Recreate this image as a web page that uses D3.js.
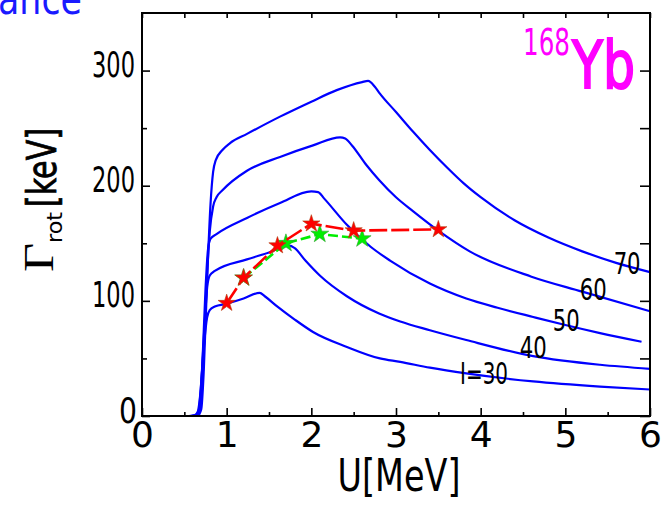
<!DOCTYPE html>
<html>
<head>
<meta charset="utf-8">
<title>Gamma rot 168Yb</title>
<script src="https://d3js.org/d3.v7.min.js"></script>
<style>
  body { margin: 0; background: #fff; font-family: "DejaVu Sans"; }
  svg { display: block; }
</style>
</head>
<body>
<div id="chart"></div>
<script>
// spin values of the calculated curves
var spins = [30, 40, 50, 60, 70];

// U [MeV] and Gamma_rot [keV], one pair per curve
var U30 = [0, 0.55, 0.62, 0.66, 0.69, 0.73, 0.77, 0.80, 0.86, 1.0, 1.2, 1.39, 1.45, 1.6, 1.8, 2.02, 2.42, 2.81, 3.05, 3.4, 3.83, 4.62, 5.41, 6.0];
var G30 = [0, 0, 0.5, 4, 20, 60, 86, 92, 95, 97.5, 102, 107, 104, 95, 84, 73, 60, 50, 47, 42, 37, 30, 25.5, 23];

var U40 = [0, 0.56, 0.63, 0.67, 0.70, 0.74, 0.77, 0.80, 0.86, 1.24, 1.5, 1.74, 1.80, 1.93, 2.1, 2.42, 2.8, 3.05, 3.4, 3.83, 4.62, 5.41, 6.0];
var G40 = [0, 0, 0.5, 5, 30, 80, 112, 122, 126, 136, 142, 148, 146, 135, 122, 104, 89, 82, 74.5, 66, 52, 44.5, 41];

var U50 = [0, 0.57, 0.64, 0.68, 0.71, 0.75, 0.78, 0.81, 0.88, 1.24, 1.63, 2.0, 2.08, 2.15, 2.42, 2.7, 2.93, 3.4, 3.83, 4.2, 4.62, 5.0, 5.41, 5.9];
var G50 = [0, 0, 0.5, 6, 40, 110, 145, 154, 158, 172, 185, 195, 194.5, 189, 166, 147, 135, 115, 102, 94, 86, 79, 72, 64.5];

var U60 = [0, 0.58, 0.65, 0.69, 0.72, 0.76, 0.80, 0.84, 0.88, 0.95, 1.24, 1.63, 2.02, 2.34, 2.40, 2.48, 2.65, 2.8, 3.0, 3.2, 3.5, 3.87, 4.6, 5.2, 6.0];
var G60 = [0, 0, 0.5, 6, 40, 110, 160, 182, 190, 196, 213, 225, 235, 242, 241, 235, 218, 205, 190, 178, 161, 143, 121, 108, 91];

var U70 = [0, 0.59, 0.66, 0.70, 0.73, 0.77, 0.81, 0.84, 0.87, 0.95, 1.04, 1.24, 1.63, 2.0, 2.3, 2.6, 2.67, 2.75, 2.81, 3.0, 3.2, 3.4, 3.6, 3.8, 4.0, 4.4, 4.8, 5.2, 5.6, 6.0];
var G70 = [0, 0, 0.5, 6, 40, 120, 185, 212, 222, 231, 237, 245, 260, 273, 283, 290, 291, 286, 280, 264, 247, 231, 216, 202, 190, 170, 155, 143, 133, 125];

// star points
var redU = [1.0, 1.2, 1.6, 2.0, 2.5, 3.5];
var redG = [98, 120, 148, 167, 161, 162];
var greenU = [1.2, 1.7, 2.1, 2.6];
var greenG = [120, 150, 158, 154];

// curve labels and where they sit (data units)
var curveLabels = ["I=30", "40", "50", "60", "70"];
var labelU = [4.04, 4.62, 5.01, 5.33, 5.73];
var labelG = [37, 60, 83, 110, 133];

var xTicks = [0, 1, 2, 3, 4, 5, 6];
var xMinor = [0.5, 1.5, 2.5, 3.5, 4.5, 5.5];
var yTicks = [0, 100, 200, 300];
var yMinor = [50, 150, 250];

(function() {
var W = 663, H = 505;
var pl = 142, pr = 650, pt = 13, pb = 416;

var svg = d3.select("#chart").append("svg")
  .attr("width", W)
  .attr("height", H);

var x = d3.scaleLinear().domain([0, 6]).range([pl, pr]);
var y = d3.scaleLinear().domain([0, 350]).range([pb, pt]);

// cut-off title text at the top left
svg.append("text")
  .attr("x", 82).attr("y", 14)
  .attr("text-anchor", "end")
  .attr("textLength", 84)
  .attr("lengthAdjust", "spacingAndGlyphs")
  .style("font-size", "42px")
  .style("fill", "#1a1aff")
  .text("ance");

// axes, ticks pointing inward
function addAxis(axis, tx, ty) {
  var g = svg.append("g").attr("transform", "translate(" + tx + "," + ty + ")").call(axis);
  g.select(".domain").remove();
  g.selectAll("line").attr("stroke", "#000").attr("stroke-width", 1.6);
  return g;
}
var xb = addAxis(d3.axisBottom(x).tickValues(xTicks).tickSize(-8).tickPadding(4).tickFormat(d3.format("d")), 0, pb);
addAxis(d3.axisBottom(x).tickValues(xMinor).tickSize(-4).tickFormat(""), 0, pb);
addAxis(d3.axisTop(x).tickValues(xTicks.concat(xMinor)).tickSize(-5).tickFormat(""), 0, pt);
var yl = addAxis(d3.axisLeft(y).tickValues(yTicks).tickSize(-8).tickFormat(d3.format("d")), pl, 0);
addAxis(d3.axisLeft(y).tickValues(yMinor).tickSize(-5).tickFormat(""), pl, 0);
addAxis(d3.axisRight(y).tickValues(yTicks.concat(yMinor)).tickSize(-10).tickFormat(""), pr, 0);

xb.selectAll("text")
  .attr("y", 31).attr("dy", 0)
  .style("font-family", "DejaVu Sans")
  .style("font-size", "36px")
  .style("fill", "#000");

yl.selectAll("text")
  .attr("x", function(d) { return d === 0 ? -5 : -7; })
  .attr("y", 6).attr("dy", 0)
  .attr("textLength", function(d) { return d === 0 ? 18 : 43; })
  .attr("lengthAdjust", "spacingAndGlyphs")
  .style("font-family", "DejaVu Sans")
  .style("font-size", "35px")
  .style("fill", "#000");

// curves
var line = d3.line()
  .x(function(d) { return x(d[0]); })
  .y(function(d) { return y(d[1]); })
  .curve(d3.curveMonotoneX);

var curveU = [U30, U40, U50, U60, U70];
var curveG = [G30, G40, G50, G60, G70];
spins.forEach(function(s, i) {
  var pts = curveU[i].map(function(u, j) { return [u, curveG[i][j]]; });
  svg.append("path")
    .datum(pts)
    .attr("d", line)
    .attr("fill", "none")
    .attr("stroke", "#0000ff")
    .attr("stroke-width", 2.2);
});

// curve labels
curveLabels.forEach(function(t, i) {
  svg.append("text")
    .attr("x", x(labelU[i]))
    .attr("y", y(labelG[i]) + 11)
    .attr("text-anchor", "middle")
    .attr("textLength", t.length === 4 ? 48 : 27)
    .attr("lengthAdjust", "spacingAndGlyphs")
    .style("font-size", "30px")
    .style("fill", "#000")
    .text(t);
});

var star = d3.symbol().type(d3.symbolStar);
var ptLine = d3.line()
  .x(function(d) { return x(d[0]); })
  .y(function(d) { return y(d[1]); });

function series(us, gs, col, edge, dash, size) {
  var pts = us.map(function(u, j) { return [u, gs[j]]; });
  svg.append("path")
    .datum(pts)
    .attr("d", ptLine)
    .attr("fill", "none")
    .attr("stroke", col)
    .attr("stroke-width", 2.6)
    .attr("stroke-dasharray", dash);
  svg.selectAll(null)
    .data(pts)
    .enter().append("path")
      .attr("transform", function(d) { return "translate(" + x(d[0]) + "," + y(d[1]) + ")"; })
      .attr("d", star.size(size))
      .attr("fill", col)
      .attr("stroke", edge)
      .attr("stroke-width", 0.6);
}
series(greenU, greenG, "#00ee00", "#30a030", "10,4", 100);
series(redU, redG, "#ff0000", "#b04010", "18,4", 92);

// frame
svg.append("rect")
  .attr("x", pl).attr("y", pt)
  .attr("width", pr - pl).attr("height", pb - pt)
  .attr("fill", "none")
  .attr("stroke", "#000")
  .attr("stroke-width", 2);

// axis titles
svg.append("text")
  .attr("x", 399).attr("y", 491)
  .attr("text-anchor", "middle")
  .attr("textLength", 123)
  .attr("lengthAdjust", "spacingAndGlyphs")
  .style("font-size", "44px")
  .text("U[MeV]");

svg.append("text")
  .attr("transform", "translate(53,272) rotate(-90)")
  .attr("textLength", 29)
  .attr("lengthAdjust", "spacingAndGlyphs")
  .style("font-family", "Liberation Serif")
  .style("font-size", "42px")
  .text("Γ");
svg.append("text")
  .attr("transform", "translate(62,243) rotate(-90)")
  .attr("textLength", 31)
  .attr("lengthAdjust", "spacingAndGlyphs")
  .style("font-size", "22px")
  .text("rot");
svg.append("text")
  .attr("transform", "translate(56,207) rotate(-90)")
  .attr("textLength", 79)
  .attr("lengthAdjust", "spacingAndGlyphs")
  .style("font-size", "40px")
  .style("stroke", "#000")
  .style("stroke-width", 0.8)
  .text("[keV]");

// nucleus label
svg.append("text")
  .attr("x", 523).attr("y", 55)
  .attr("textLength", 47)
  .attr("lengthAdjust", "spacingAndGlyphs")
  .style("font-size", "38px")
  .style("fill", "#ff00ff")
  .text("168");
svg.append("text")
  .attr("x", 572).attr("y", 88)
  .attr("textLength", 63)
  .attr("lengthAdjust", "spacingAndGlyphs")
  .style("font-size", "66px")
  .style("fill", "#ff00ff")
  .style("stroke", "#ff00ff")
  .style("stroke-width", 2)
  .text("Yb");
})();
</script>
</body>
</html>
